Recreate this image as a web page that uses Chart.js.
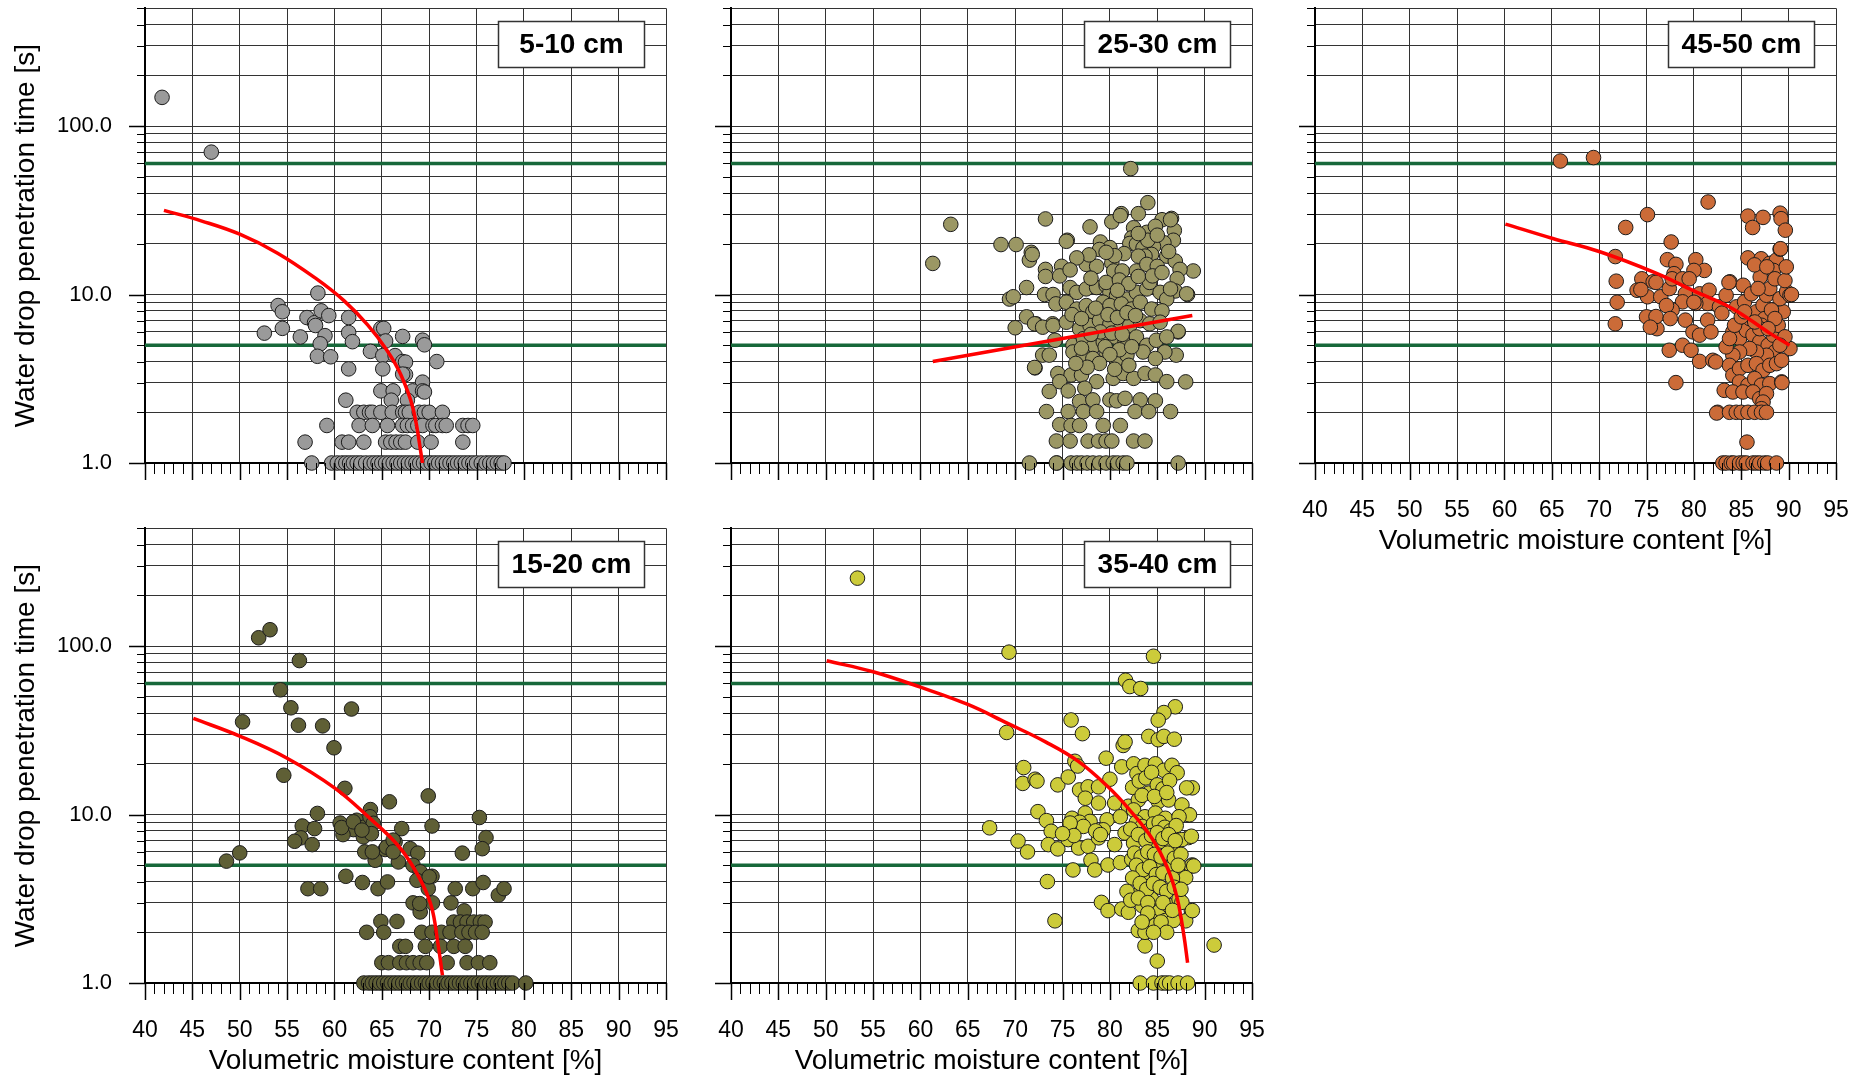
<!DOCTYPE html>
<html>
<head>
<meta charset="utf-8">
<script src="https://cdn.jsdelivr.net/npm/chart.js@4/dist/chart.umd.min.js"></script>
<style>
  body { margin: 0; background: #fff; }
  #wrap { position: relative; width: 1864px; height: 1078px; overflow: hidden; }
  #wrap canvas { position: absolute; }
</style>
</head>
<body>
<div id="wrap">
  <canvas id="c1" width="680" height="558"></canvas>
  <canvas id="c2" width="680" height="558"></canvas>
  <canvas id="c3" width="680" height="558"></canvas>
  <canvas id="c4" width="680" height="558"></canvas>
  <canvas id="c5" width="680" height="558"></canvas>
</div>
<script>
// axis setup
const X_MIN = 40, X_MAX = 95;
const Y_MIN = 1, Y_MAX = 500;
const Y_GRID = [1, 2, 3, 4, 5, 6, 7, 8, 9, 10, 20, 30, 40, 50, 60, 70, 80, 90, 100, 200, 300, 400, 500];
const Y_LABELS = { 1: '1.0', 10: '10.0', 100: '100.0' };
const THRESHOLDS = [5, 60];

// 5-10 cm : [moisture %, WDPT s]
const pts_5_10 = [
  [41.8,148],[47,70],
  [58.25,10.2],[54.05,8.6],[54.5,7.9],[52.6,5.9],[54.5,6.3],[56.4,5.6],[57.1,7.3],[57.9,6.8],[58.6,8.0],[59.4,7.5],
  [58.0,6.55],[59.0,5.7],[58.5,5.1],[58.2,4.3],[59.6,4.27],[61.5,7.3],[61.5,5.95],[61.9,5.25],[61.5,3.62],
  [64.9,6.3],[65.2,6.3],[65.4,5.3],[63.8,4.6],[65.1,4.34],[65.1,3.62],[66.4,4.34],[67.2,5.64],[67.2,4.0],[67.5,3.97],
  [67.5,3.35],[67.2,3.37],[69.3,5.36],[69.5,5.03],[70.8,4.0],[69.3,3.02],
  [64.9,2.68],[66.2,2.68],[66.0,2.36],[68.25,2.68],[69.3,2.68],[69.5,2.64],[67.7,2.36],[61.2,2.36],
  [62.4,2],[63.1,2],[63.7,2],[64.0,2],[64.9,2],[66.1,2],[67.2,2],[67.5,2],[67.9,2],[68.95,2],[69.5,2],[70.0,2],[71.4,2],
  [59.2,1.67],[62.6,1.67],[64.0,1.67],[65.6,1.67],[67.2,1.67],[67.7,1.67],[68.25,1.67],[68.8,1.67],[69.3,1.67],
  [70.4,1.67],[70.7,1.67],[71.4,1.67],[71.8,1.67],[73.55,1.67],[74.1,1.67],[74.6,1.67],
  [56.9,1.33],[60.8,1.33],[61.5,1.33],[63.1,1.33],[65.4,1.33],[65.95,1.33],[66.5,1.33],[67.0,1.33],[67.5,1.33],
  [68.8,1.33],[70.2,1.33],[73.55,1.33],
  [57.6,1],[59.7,1],[60.3,1],[60.8,1],[61.2,1],[61.6,1],[62.0,1],[62.4,1],[62.8,1],[63.3,1],[63.8,1],[64.2,1],
  [64.6,1],[65.0,1],[65.4,1],[65.8,1],[66.2,1],[66.6,1],[67.0,1],[67.4,1],[67.8,1],[68.2,1],[68.6,1],[69.0,1],
  [69.4,1],[69.8,1],[70.2,1],[70.6,1],[71.0,1],[71.4,1],[71.8,1],[72.2,1],[72.6,1],[73.0,1],[73.4,1],[73.8,1],
  [74.2,1],[74.6,1],[75.0,1],[75.5,1],[76.0,1],[76.4,1],[76.8,1],[77.2,1],[77.6,1],[77.9,1]
];
const fit_5_10 = [[42.0,31.6],[46,27.3],[50,22.8],[54,17.6],[58,12.5],[61,9.2],[63.5,6.6],[65.5,4.7],[67,3.35],[68.3,2.1],[69.3,1.0]];

// 15-20 cm
const pts_15_20 = [
  [52.0,112],[53.2,125],[56.3,82],[54.3,55],[55.4,43],[50.3,35.5],[61.8,42.3],[56.2,33.9],[58.75,33.6],[59.95,24.9],
  [54.65,17.1],[61.1,14.3],[69.9,12.9],[65.8,11.9],
  [63.8,10.7],[58.2,10.15],[60.6,8.9],[62.35,9.25],[63.2,8.44],[63.75,9.7],[64.1,8.87],[62.0,8.14],[60.9,7.6],
  [63.05,7.37],[63.9,7.7],[60.75,8.37],[62.0,9.05],[62.9,8.08],
  [56.6,8.55],[57.9,8.25],[56.45,7.27],[55.8,6.94],[57.65,6.63],
  [67.1,8.25],[70.3,8.55],[75.3,9.6],[76.0,7.3],[75.6,6.27],[73.5,5.9],
  [63.2,6.0],[64.3,5.35],[65.35,6.2],[66.4,6.88],[66.75,5.23],[68.0,6.27],[68.8,5.9],[68.3,5.0],[69.05,4.57],
  [70.3,4.3],[68.7,4.07],[69.9,3.63],[64.0,6.0],[65.5,6.4],[66.2,7.05],[66.2,6.0],[70.0,4.27],
  [48.6,5.29],[50.0,5.92],
  [61.2,4.3],[62.95,3.95],[64.6,3.63],[65.6,3.98],[57.2,3.63],[58.55,3.63],
  [68.3,2.99],[69.05,2.64],[70.35,2.99],[72.3,2.99],[72.75,3.63],[74.6,3.63],[75.7,3.95],[77.3,3.32],[77.9,3.63],[69.0,2.96],
  [64.9,2.32],[66.6,2.32],[73.7,2.68],
  [72.6,2.3],[73.3,2.3],[74.0,2.3],[74.7,2.3],[75.4,2.3],[75.9,2.3],
  [63.4,2],[65.2,2],[69.2,2],[70.3,2],[71.3,2],[72.2,2],[73.45,2],[74.2,2],[74.9,2],[75.6,2],
  [66.9,1.65],[67.5,1.65],[69.6,1.65],[71.2,1.65],[72.6,1.65],[73.8,1.65],
  [65.0,1.32],[65.7,1.32],[66.9,1.32],[67.6,1.32],[68.3,1.32],[69.05,1.32],[69.75,1.32],[71.9,1.32],[74.0,1.32],
  [75.2,1.32],[76.4,1.32],
  [63.1,1],[63.6,1],[64.0,1],[64.4,1],[64.8,1],[65.2,1],[65.6,1],[66.0,1],[66.4,1],[66.8,1],[67.2,1],[67.6,1],
  [68.0,1],[68.4,1],[68.8,1],[69.2,1],[69.6,1],[70.0,1],[70.4,1],[70.8,1],[71.2,1],[71.6,1],[72.0,1],[72.4,1],
  [72.8,1],[73.2,1],[73.6,1],[74.0,1],[74.4,1],[74.8,1],[75.2,1],[75.6,1],[76.0,1],[76.4,1],[76.8,1],[77.2,1],
  [77.6,1],[78.0,1],[78.4,1],[78.8,1],[80.2,1]
];
const fit_15_20 = [[45.1,37.2],[50,29.2],[55,21.6],[60,14.4],[63.6,9.65],[66.8,6.46],[68.85,4.32],[70.2,2.89],[70.9,1.75],[71.4,1.11]];

// 25-30 cm
const pts_25_30 = [
  [63.2,26.1],[61.3,15.3],[82.2,55.9],[68.5,19.8],[70.1,19.8],[73.2,28.1],[71.7,17.8],[71.5,16.0],[71.2,11.0],
  [69.4,9.4],[69.8,9.7],[71.2,7.37],[70.0,6.35],[72.2,6.7],[73.95,6.7],[72.1,3.67],[71.5,1],[74.4,1],[87.2,1],
  [88.0,3.03],[87.0,4.37],[87.2,6.0],[88.2,10.0],[88.8,13.8],[84.0,35.1],[83.0,30.2],[81.2,30.2],[80.2,27.0],
  [77.9,25.2],[75.5,21.0],[86.5,28.3],[86.8,24.0],[86.7,21.0],
  [81.1,29.4],[85.5,27.8],[86.4,27.8],[75.4,20.7],[79.0,20.5],[80.0,19.0],[78.9,18.5],
  [82.5,24.9],[82.3,21.7],[82.1,20.1],[82.8,19.9],[83.9,23.4],[84.8,25.4],[85.7,20.3],[84.6,19.3],[83.5,18.9],
  [84.4,17.3],[86.0,16.9],[86.9,15.8],[83.7,16.9],[83.0,16.9],[71.8,17.3],
  [73.2,14.1],[73.2,12.8],[74.9,14.7],[74.7,12.9],[77.5,15.1],[78.6,14.7],[80.2,15.4],[80.4,13.8],[81.3,13.8],
  [82.8,13.8],[83.9,15.1],[85.0,14.7],[87.4,14.1],[87.1,12.4],[86.9,10.5],[88.1,10.1],
  [73.1,10.0],[74.0,10.0],[75.8,11.0],[76.5,10.3],[77.5,10.8],[78.6,11.0],[79.6,11.3],[80.0,10.3],[80.7,9.85],
  [81.8,9.4],[82.8,10.3],[83.9,10.8],[84.2,11.8],[85.3,10.3],[86.0,9.4],[86.4,10.8],
  [74.3,8.8],[75.4,9.0],[76.5,8.2],[77.5,8.6],[78.2,7.9],[79.3,9.0],[80.0,8.6],[81.2,8.8],[82.3,8.2],[83.2,9.0],
  [84.4,8.2],[85.5,8.0],
  [72.05,6.7],[72.9,6.4],[74.0,6.55],[75.4,6.85],[76.8,6.25],[77.9,6.55],[78.9,7.0],[80.0,6.7],[81.1,6.25],
  [82.1,6.55],[83.2,7.0],[84.2,6.7],[85.3,6.85],[87.2,6.05],
  [74.2,5.35],[76.1,5.0],[77.2,5.47],[78.2,4.89],[79.3,5.23],[80.5,5.6],[81.6,5.23],[82.8,5.6],[83.9,5.0],
  [84.9,5.35],[86.0,5.6],[85.8,4.56],
  [72.9,4.37],[73.6,4.37],[76.1,4.56],[77.2,4.37],[78.2,4.17],[79.6,4.56],[80.7,4.08],[81.8,4.37],[83.5,4.56],
  [84.8,4.17],[72.05,3.69],
  [74.5,3.4],[75.9,3.33],[77.0,3.33],[78.6,3.04],[80.35,3.18],[81.4,3.4],[82.5,3.18],[83.7,3.4],[84.8,3.33],
  [86.0,3.04],[74.7,3.04],[77.35,2.78],
  [73.6,2.66],[75.6,2.68],[76.8,2.32],[78.2,2.37],[80.0,2.37],[80.7,2.34],[81.6,2.42],[83.2,2.37],[84.8,2.34],
  [73.3,2.02],[75.6,2.02],[77.2,2.02],[78.6,2.02],[82.65,2.02],[84.1,2.02],[86.4,2.02],
  [74.7,1.69],[75.9,1.67],[76.8,1.67],[79.3,1.67],[81.1,1.67],
  [74.35,1.35],[75.8,1.35],[77.7,1.35],[78.8,1.35],[79.6,1.35],[80.2,1.35],[82.5,1.35],[83.7,1.35],
  [74.35,1],[75.9,1],[76.5,1],[77.0,1],[77.6,1],[78.2,1],[78.9,1],[79.6,1],[80.35,1],[80.8,1],[81.4,1],[81.8,1],
  [76.0,7.6],[77.0,7.2],[78.5,8.3],[79.8,7.6],[80.8,7.3],[81.8,7.8],[82.7,7.5],[79.0,6.0],[80.2,5.9],[81.3,5.8],
  [78.0,5.8],[77.0,4.8],[79.5,4.9],[81.0,4.7],[82.3,4.9],[80.0,4.4],[78.9,3.9],[77.6,3.7],[80.5,3.6],[82.0,3.8],
  [76.4,3.9],[79.6,11.8],[81.0,12.2],[82.0,11.6],[78.0,12.5],[80.8,10.6],[83.0,12.8],[84.5,12.9],[85.5,13.5],
  [86.2,18.0],[84.0,21.0],[83.0,23.0],[85.0,22.5],[81.5,17.5],[80.5,17.0],[79.6,17.8],[77.8,17.2],[76.5,16.5],[75.8,14.0]
];
const fit_25_30 = [[61.3,4.0],[88.7,7.5]];

// 35-40 cm
const pts_35_40 = [
  [53.35,253],[69.35,92],[84.6,87],[81.65,62.7],[82.1,57.5],[83.25,56],[86.9,43.6],[85.7,40.3],[85.1,36.3],
  [75.9,36.4],[77.1,30.2],[69.1,30.7],[84.1,29.1],[85.1,27.8],[85.7,29.1],[86.8,28.0],[81.4,25.7],[81.6,27],
  [79.6,21.6],[70.9,19.0],[70.8,15.3],[72.1,16.2],[72.3,15.8],[67.3,8.34],[70.3,6.96],[71.3,6.0],[72.4,10.4],
  [73.4,4.0],[74.2,2.34],[91.0,1.68],[85.0,1.35],[83.7,1.66],
  [83.2,1],[84.6,1],[85.5,1],[85.9,1],[86.3,1],[87.2,1],[88.2,1],
  [88.7,14.4],[88.1,14.4],[88.3,10],[88.3,7.3],[88.7,5.02],[88.6,2.68],[88.0,2.34],
  [76.3,20.7],[76.6,19.4],[74.5,15.0],[75.6,16.7],[76.8,14.0],[77.7,14.6],[78.8,14.6],[80.0,16.2],[81.25,19.2],
  [82.5,20.0],[82.85,17.5],[83.7,19.6],[84.8,20.0],[85.7,18.3],[86.55,19.6],[87.1,17.7],
  [77.4,12.5],[78.8,11.7],[80.5,11.7],[81.95,11.2],[83.0,12.2],[84.1,13.4],[85.1,11.95],[86.2,12.2],[87.6,11.4],[88.4,9.96],
  [73.3,9.2],[76.0,9.5],[77.4,10.2],[77.9,9.1],[79.7,9.3],[81.1,9.7],[82.5,10.65],[83.7,9.7],[84.8,10.2],[85.85,9.5],[87.3,9.7],
  [73.8,7.95],[73.5,6.63],[74.5,6.25],[75.6,7.1],[76.7,6.33],[77.7,6.48],[78.8,7.27],[79.3,8.12],[80.5,6.63],
  [81.6,7.77],[82.5,6.77],[83.55,7.43],[84.4,6.48],[85.5,6.94],[86.55,6.33],[87.6,7.1],[88.6,7.43],[88.6,4.95],
  [76.1,4.69],[78.0,5.35],[78.4,4.69],[79.8,5.02],[81.1,5.18],[82.3,5.42],[83.0,4.95],[84.1,4.52],[85.1,5.18],
  [86.2,4.74],[87.3,4.42],[88.0,4.22],[88.85,4.95],
  [79.1,3.01],[79.8,2.69],[81.25,2.75],[81.95,2.63],[82.7,3.3],[83.4,2.88],[84.4,3.15],[85.1,2.63],[86.2,2.88],
  [87.3,3.15],[87.6,3.01],[88.7,2.69],
  [83.0,2.05],[83.7,2.0],[84.4,2.35],[85.85,2.35],[86.7,2.35],
  [76.8,9.0],[77.2,8.5],[75.8,8.9],[78.5,8.0],[79.0,7.6],[76.2,7.5],[75.0,7.7],
  [82.4,14.5],[83.1,15.8],[83.8,16.5],[84.4,17.8],[85.0,15.0],[85.6,14.2],[86.3,15.9],[83.4,13.0],[84.7,12.8],[86.0,13.5],
  [82.8,9.0],[83.4,8.5],[84.0,8.0],[84.6,8.8],[85.2,9.0],[85.8,8.4],[86.4,8.0],[87.0,8.6],[82.2,8.2],[83.0,7.6],
  [83.8,7.0],[84.4,7.5],[85.0,7.8],[85.6,7.2],[86.2,7.6],[86.9,7.0],[82.6,5.9],[83.3,5.6],[84.0,6.0],[84.7,5.8],
  [85.4,5.6],[86.1,5.9],[86.8,5.5],[87.5,5.8],[82.8,5.0],[83.5,4.7],[84.2,4.9],[84.9,4.4],[85.6,4.5],[86.6,4.2],
  [87.2,5.0],[82.4,4.2],[83.2,3.9],[83.9,3.6],[84.6,3.9],[85.3,3.7],[86.0,3.5],[86.8,3.7],[87.5,3.6],[81.8,3.5],
  [82.2,3.1],[83.0,3.2],[84.0,3.0],[85.6,3.0],[86.6,2.7],[84.0,2.6],[84.8,2.2],[85.4,2.3],[86.0,2.0],[84.6,2.0],[83.4,2.3]
];
const fit_35_40 = [[50.1,81.8],[55,70.4],[60,57],[65,45],[69.1,35],[73.2,27],[76.6,20.8],[79.8,14.6],[82.05,10.7],[84.5,7.14],[86.1,4.78],[87.1,3.19],[87.8,1.93],[88.2,1.32]];

// 45-50 cm
const pts_45_50 = [
  [65.9,62],[69.4,65],[81.5,35.4],[75.1,29.8],[72.8,25],[77.6,20.5],[71.7,16.8],[71.8,12.0],[71.9,9.0],[71.7,6.7],
  [78.1,3.0],[82.5,2.0],[85.6,1.33],
  [85.7,29.2],[86.2,25],[87.3,28.7],[89.1,30.4],[89.2,28.2],[89.65,24.1],
  [77.2,16.1],[78.1,15.1],[77.9,13.3],[80.2,16.1],[81.1,13.9],[80.0,13.9],
  [85.7,16.5],[87.1,16.3],[88.0,15.3],[88.7,16.0],[89.1,18.6],[88.4,13.9],[87.0,12.7],[86.4,15.0],[87.7,14.6],
  [74.5,12.4],[75.7,11.9],[74.0,10.6],[75.1,9.7],[76.5,9.7],[77.4,10.85],[77.7,12.4],[78.8,12.4],[79.5,12.4],
  [79.1,10.1],[80.6,10.1],[81.6,10.6],[81.45,8.85],[80.2,8.85],[78.8,9.05],[77.7,8.1],
  [75.0,7.37],[76.1,6.27],[79.1,7.05],[79.9,6.0],[80.6,5.74],[81.45,7.05],[81.8,6.0],[82.7,8.45],[83.8,11.9],
  [83.4,9.9],[85.2,11.35],[84.5,8.45],
  [77.4,4.67],[78.8,5.0],[79.7,4.67],[80.6,4.01],[82.0,4.07],[82.3,3.98],[83.2,2.7],[82.4,1.98],
  [76.0,7.4],[75.4,6.4],[74.4,10.7],[76.0,11.8],[77.1,8.6],[77.5,7.2],[80.0,9.0],[82.95,7.75],[83.7,11.8],
  [84.11,6.0],[84.82,5.48],[85.53,6.13],[85.89,7.2],[86.6,7.9],[87.3,8.64],[87.66,9.9],[88.01,10.85],[87.48,7.2],
  [87.13,6.57],[86.24,5.74],[86.95,5.24],[87.84,5.0],[88.37,5.74],[88.9,6.57],[89.43,7.9],[89.08,9.45],[89.79,10.4],
  [90.14,4.78],[88.55,4.56],[87.66,4.36],[86.6,4.56],[85.89,4.78],[84.82,4.56],[84.11,4.36],[83.76,3.8],[84.11,3.32],
  [84.82,3.63],[85.71,3.8],[86.6,3.89],[87.3,3.55],[88.01,3.8],[88.72,3.89],[89.26,4.07],[84.82,3.03],[85.71,2.9],
  [86.42,3.17],[87.13,2.9],[88.01,2.96],[89.26,3.03],[84.11,2.64],[85.18,2.64],[86.24,2.64],[86.95,2.41],[87.66,2.58],
  [87.3,2.3],[87.13,2.1],
  [83.76,2],[84.47,2],[85.0,2],[85.71,2],[86.42,2],[87.13,2],[87.66,2],
  [83.05,1],[83.4,1],[83.94,1],[84.2,1],[84.82,1],[85.2,1],[85.53,1],[86.24,1],[86.6,1],[86.95,1],[87.48,1],[87.8,1],[88.72,1],
  [85.35,9.05],[86.06,10.1],[86.77,10.85],[88.55,12.4],[89.61,12.1],[90.14,9.9],[88.19,8.1],[89.61,5.61],[89.08,5.0],
  [83.4,4.89],[83.76,5.48],[84.29,6.57],[85.0,7.37],[85.35,7.9],[88.55,7.2],[86.95,6.27],[86.42,6.87],[87.84,6.27],
  [89.3,3.0],[90.3,10],[89.75,14.6],[89.15,18.7]
];
const fit_45_50 = [[60.1,26.2],[65.1,21.5],[70,18],[76,13.4],[80,10.5],[84,8.3],[88,5.9],[90.1,5.0]];

const FONT = "'Liberation Sans', Arial, sans-serif";
const GRID = '#333333';
const GREEN = '#17683a';

const panels = [
  { id: 'c1', label: '5-10 cm',  pts: pts_5_10,  fit: fit_5_10,  color: '#9a9a9a', left: 0,    top: 0,   showX: false, showY: true },
  { id: 'c2', label: '25-30 cm', pts: pts_25_30, fit: fit_25_30, color: '#9b9764', left: 586,  top: 0,   showX: false, showY: false },
  { id: 'c3', label: '45-50 cm', pts: pts_45_50, fit: fit_45_50, color: '#cb6b38', left: 1170, top: 0,   showX: true,  showY: false },
  { id: 'c4', label: '15-20 cm', pts: pts_15_20, fit: fit_15_20, color: '#5f5f35', left: 0,    top: 520, showX: true,  showY: true },
  { id: 'c5', label: '35-40 cm', pts: pts_35_40, fit: fit_35_40, color: '#cccb3a', left: 586,  top: 520, showX: true,  showY: false }
];

// outward tick marks and the depth label box
const marks = {
  id: 'marks',
  afterDraw(chart, args, opts) {
    const { ctx, chartArea: a, scales: { x, y } } = chart;
    ctx.save();
    ctx.strokeStyle = '#000';
    for (let v = X_MIN; v <= X_MAX; v++) {
      const major = v % 5 === 0;
      const px = Math.round(x.getPixelForValue(v)) + 0.5;
      ctx.lineWidth = major ? 1.5 : 1;
      ctx.beginPath();
      ctx.moveTo(px, a.bottom);
      ctx.lineTo(px, a.bottom + (major ? 17 : 11));
      ctx.stroke();
    }
    Y_GRID.forEach(v => {
      const major = v in Y_LABELS;
      const py = Math.round(y.getPixelForValue(v)) + 0.5;
      ctx.lineWidth = major ? 1.5 : 1;
      ctx.beginPath();
      ctx.moveTo(a.left, py);
      ctx.lineTo(a.left - (major ? 16 : 8), py);
      ctx.stroke();
    });
    // label box
    const w = 146, h = 46;
    const bx = Math.round(a.right - 22 - w) + 0.5, by = Math.round(a.top + 13) + 0.5;
    ctx.fillStyle = '#fff';
    ctx.fillRect(bx, by, w, h);
    ctx.strokeStyle = '#333';
    ctx.lineWidth = 1.5;
    ctx.strokeRect(bx, by, w, h);
    ctx.fillStyle = '#000';
    ctx.font = 'bold 28px ' + FONT;
    ctx.textAlign = 'center';
    ctx.textBaseline = 'middle';
    ctx.fillText(opts.text, bx + w / 2, by + h / 2 + 1);
    ctx.restore();
  }
};

panels.forEach(p => {
  const cv = document.getElementById(p.id);
  cv.style.left = p.left + 'px';
  cv.style.top = p.top + 'px';

  const datasets = [
    {
      data: p.pts.map(([x, y]) => ({ x, y })),
      pointRadius: 7.3,
      pointBackgroundColor: p.color,
      pointBorderColor: '#1c1c1c',
      pointBorderWidth: 1,
      clip: false,
      order: 1
    },
    {
      type: 'line',
      data: p.fit.map(([x, y]) => ({ x, y })),
      borderColor: '#ff0000',
      borderWidth: 3.5,
      pointRadius: 0,
      showLine: true,
      fill: false,
      tension: 0.4,
      order: 0
    }
  ];
  THRESHOLDS.forEach(t => datasets.push({
    type: 'line',
    data: [{ x: X_MIN, y: t }, { x: X_MAX, y: t }],
    borderColor: GREEN,
    borderWidth: 3.5,
    pointRadius: 0,
    showLine: true,
    fill: false,
    order: 2
  }));

  new Chart(cv.getContext('2d'), {
    type: 'scatter',
    data: { datasets },
    plugins: [marks],
    options: {
      responsive: false,
      animation: false,
      events: [],
      layout: { padding: { top: 8, right: 14, bottom: 0, left: 0 } },
      plugins: {
        legend: { display: false },
        tooltip: { enabled: false },
        marks: { text: p.label }
      },
      scales: {
        x: {
          type: 'linear',
          min: X_MIN,
          max: X_MAX,
          afterFit: s => { s.height = 95; s.paddingLeft = 0; s.paddingRight = 0; },
          ticks: {
            display: p.showX,
            stepSize: 5,
            autoSkip: false,
            maxRotation: 0,
            padding: 34,
            color: '#000',
            font: { family: FONT, size: 23 }
          },
          grid: { color: GRID, lineWidth: 1, drawTicks: false },
          border: { color: '#000', width: 2 },
          title: {
            display: p.showX,
            text: 'Volumetric moisture content [%]',
            color: '#000',
            font: { family: FONT, size: 28 },
            padding: { top: 0, bottom: 0 }
          }
        },
        y: {
          type: 'logarithmic',
          min: Y_MIN,
          max: Y_MAX,
          afterFit: s => { s.width = 145; s.paddingTop = 0; s.paddingBottom = 0; },
          afterBuildTicks: s => { s.ticks = Y_GRID.map(v => ({ value: v })); },
          ticks: {
            display: p.showY,
            autoSkip: false,
            padding: 33,
            color: '#000',
            font: { family: FONT, size: 22 },
            callback: v => Y_LABELS[v] || ''
          },
          grid: { color: GRID, lineWidth: 1, drawTicks: false },
          border: { color: '#000', width: 2 },
          title: {
            display: p.showY,
            text: 'Water drop penetration time [s]',
            color: '#000',
            font: { family: FONT, size: 28 },
            padding: { top: 9, bottom: 0 }
          }
        }
      }
    }
  });
});
</script>
</body>
</html>
